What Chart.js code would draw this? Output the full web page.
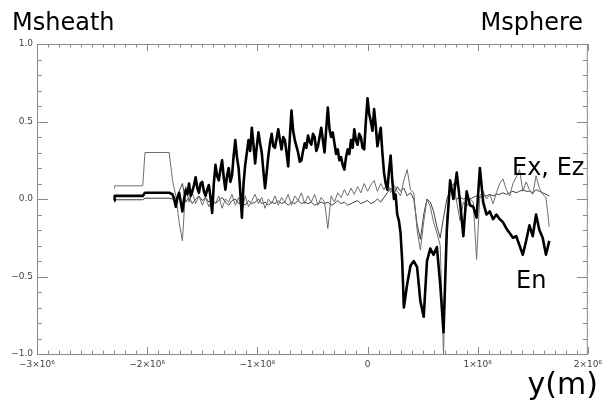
<!DOCTYPE html>
<html>
<head>
<meta charset="utf-8">
<script src="https://cdn.jsdelivr.net/npm/chart.js@4.4.0/dist/chart.umd.min.js"></script>
<style>
html, body { margin: 0; padding: 0; background: #fff; overflow: hidden; }
</style>
</head>
<body>
<canvas id="c" width="607" height="404"></canvas>
<script>
// sample positions for the thin lines, in units of 1e6 m
let ys = [-2.30, -2.295, -2.04, -2.02, -1.80,
  -1.77,-1.74,-1.71,-1.68,-1.65,-1.62,-1.59,-1.56,-1.53,-1.50,
  -1.47,-1.44,-1.41,-1.38,-1.35,-1.32,-1.29,-1.26,-1.23,-1.20,
  -1.17,-1.14,-1.11,-1.08,-1.05,-1.02,-0.99,-0.96,-0.93,-0.90,
  -0.87,-0.84,-0.81,-0.78,-0.75,-0.72,-0.69,-0.66,-0.63,-0.60,
  -0.57,-0.54,-0.51,-0.48,-0.45,-0.42,-0.39,-0.36,-0.33,-0.30,
  -0.27,-0.24,-0.21,-0.18,-0.15,-0.12,-0.09,-0.06,-0.03,0.00,
  0.03,0.06,0.09,0.12,0.15,0.18,0.21,0.24,0.27,0.30,
  0.33,0.36,0.39,0.42,0.45,0.48,0.51,0.54,0.57,0.60,
  0.63,0.66,0.69,0.72,0.75,0.78,0.81,0.84,0.87,0.90,
  0.93,0.96,0.99,1.02,1.05,1.08,1.11,1.14,1.17,1.20,
  1.23,1.26,1.29,1.32,1.35,1.38,1.41,1.44,1.47,1.50,
  1.53,1.56,1.59,1.62,1.65];

let ex = [0.07, 0.085, 0.085, 0.30, 0.30,
  0.12,0.02,-0.15,-0.27,0.08,-0.02,0.04,-0.03,0.02,-0.04,
  0.01,-0.05,0.00,-0.03,0.02,-0.06,0.00,-0.02,0.03,-0.04,
  0.01,-0.08,0.02,-0.05,-0.01,0.03,-0.03,0.01,-0.06,0.00,
  -0.03,0.02,-0.04,0.01,-0.02,0.03,-0.04,0.02,-0.01,0.04,
  -0.03,0.02,-0.02,0.03,-0.04,0.01,-0.02,-0.19,0.02,-0.02,
  0.04,0.01,0.06,0.02,0.07,0.03,0.08,0.04,0.10,0.05,
  0.09,0.12,0.05,0.10,0.06,0.11,0.04,0.09,0.05,0.02,
  0.12,0.19,0.06,0.04,-0.20,-0.33,-0.15,0.00,-0.05,-0.15,
  -0.22,-0.30,-1.00,-0.12,0.08,0.10,-0.02,-0.14,-0.02,-0.05,
  0.00,-0.02,-0.39,0.02,0.05,0.00,0.03,-0.03,0.04,0.10,
  0.13,0.06,0.02,0.10,0.14,0.19,0.05,0.11,0.06,0.03,
  0.15,0.07,0.03,0.01,-0.18];

let ez = [-0.02, -0.005, -0.005, 0.005, 0.005,
  0.00,-0.03,0.05,0.10,-0.02,0.01,-0.03,0.00,0.02,-0.01,
  0.01,-0.02,0.00,-0.03,-0.01,0.01,-0.02,-0.04,-0.01,0.00,
  -0.03,-0.02,-0.04,-0.01,-0.03,-0.02,0.00,-0.03,-0.02,-0.04,
  -0.02,-0.03,-0.01,-0.03,-0.02,-0.04,-0.02,-0.03,-0.01,-0.03,
  -0.02,-0.03,-0.02,-0.04,-0.03,-0.02,-0.03,-0.02,-0.04,-0.03,
  -0.01,-0.03,-0.02,-0.04,-0.03,-0.02,-0.01,-0.03,-0.02,-0.01,
  -0.03,-0.02,0.00,-0.02,0.01,0.04,0.07,0.03,0.08,0.05,
  0.07,0.02,0.04,0.00,-0.16,-0.26,-0.10,0.00,-0.02,-0.08,
  -0.18,-0.25,-0.12,0.00,0.06,0.02,0.00,0.01,0.00,0.01,
  0.00,0.01,0.02,0.01,0.02,0.02,0.03,0.02,0.03,0.03,
  0.04,0.03,0.04,0.05,0.04,0.05,0.06,0.05,0.05,0.04,
  0.06,0.05,0.04,0.03,0.02];

// normal component (thick line) has its own, finer sampling
let enY = [-2.30, -2.295, -2.04, -2.02, -1.80,
  -1.77,-1.755,-1.74,-1.725,-1.71,-1.695,-1.68,-1.665,-1.65,-1.635,
  -1.62,-1.605,-1.59,-1.575,-1.56,-1.545,-1.53,-1.515,-1.50,-1.485,
  -1.47,-1.455,-1.44,-1.425,-1.41,-1.395,-1.38,-1.365,-1.35,-1.335,
  -1.32,-1.305,-1.29,-1.275,-1.26,-1.245,-1.23,-1.215,-1.20,-1.185,
  -1.17,-1.155,-1.14,-1.125,-1.11,-1.095,-1.08,-1.065,-1.05,-1.035,
  -1.02,-1.005,-0.99,-0.975,-0.96,-0.945,-0.93,-0.915,-0.90,-0.885,
  -0.87,-0.855,-0.84,-0.825,-0.81,-0.795,-0.78,-0.765,-0.75,-0.735,
  -0.72,-0.705,-0.69,-0.675,-0.66,-0.645,-0.63,-0.615,-0.60,-0.585,
  -0.57,-0.555,-0.54,-0.525,-0.51,-0.495,-0.48,-0.465,-0.45,-0.435,
  -0.42,-0.405,-0.39,-0.375,-0.36,-0.345,-0.33,-0.315,-0.30,-0.285,
  -0.27,-0.255,-0.24,-0.225,-0.21,-0.195,-0.18,-0.165,-0.15,-0.135,
  -0.12,-0.105,-0.09,-0.075,-0.06,-0.045,-0.03,-0.015,0.00,0.015,
  0.03,0.045,0.06,0.075,0.09,0.105,0.12,0.135,0.15,0.165,
  0.18,0.195,0.21,0.225,0.24,0.255,0.27,0.285,0.30,0.315,
  0.33,0.36,0.39,0.42,0.45,0.48,0.51,0.54,0.57,0.60,
  0.63,0.66,0.69,0.72,0.75,0.78,0.81,0.84,0.87,0.90,
  0.93,0.96,0.99,1.02,1.05,1.08,1.11,1.14,1.17,1.20,
  1.23,1.26,1.29,1.32,1.35,1.38,1.41,1.44,1.47,1.50,
  1.53,1.56,1.59,1.62,1.65];

let en = [-0.01, 0.02, 0.02, 0.04, 0.04,
  0.03,0.00,-0.05,0.01,0.04,-0.02,-0.08,0.00,0.06,0.03,
  0.10,0.02,0.05,0.09,0.14,0.07,0.04,0.10,0.11,0.05,
  0.02,0.06,0.09,0.01,-0.09,0.10,0.22,0.15,0.12,0.19,
  0.25,0.14,0.06,0.15,0.20,0.11,0.15,0.28,0.38,0.27,
  0.20,0.05,-0.12,0.10,0.22,0.30,0.38,0.31,0.46,0.35,
  0.23,0.34,0.43,0.36,0.30,0.18,0.07,0.17,0.28,0.36,
  0.42,0.34,0.33,0.39,0.45,0.38,0.32,0.40,0.38,0.30,
  0.21,0.40,0.57,0.44,0.38,0.34,0.30,0.24,0.25,0.31,
  0.36,0.33,0.41,0.37,0.35,0.42,0.40,0.31,0.34,0.40,
  0.46,0.38,0.30,0.45,0.59,0.45,0.40,0.43,0.36,0.29,
  0.32,0.25,0.27,0.22,0.19,0.27,0.32,0.29,0.38,0.33,
  0.45,0.38,0.35,0.42,0.40,0.33,0.32,0.50,0.65,0.55,
  0.50,0.44,0.58,0.47,0.34,0.40,0.46,0.30,0.17,0.10,
  0.06,0.18,0.28,0.12,0.00,0.03,-0.10,-0.14,-0.22,-0.40,
  -0.70,-0.55,-0.43,-0.40,-0.44,-0.66,-0.76,-0.40,-0.32,-0.36,
  -0.31,-0.55,-0.86,-0.20,0.12,0.00,0.17,-0.02,-0.24,0.05,
  -0.04,-0.05,-0.12,0.20,-0.02,-0.10,-0.08,-0.13,-0.10,-0.13,
  -0.15,-0.19,-0.22,-0.25,-0.24,-0.30,-0.36,-0.27,-0.17,-0.24,
  -0.10,-0.20,-0.25,-0.36,-0.27];

function pts(pos, vals) {
  return vals.map((v, i) => ({x: pos[i] * 1e6, y: v}));
}

const MINUS = '\u2212';

// box round the plot, inward ticks on all four sides, and the labels
const frame = {
  id: 'frame',
  afterDraw(chart) {
    const ctx = chart.ctx, a = chart.chartArea;
    const sx = chart.scales.x, sy = chart.scales.y;
    ctx.save();
    ctx.strokeStyle = '#8a8a8a';
    ctx.lineWidth = 1;
    ctx.strokeRect(a.left + 0.5, a.top + 0.5, a.right - a.left - 1, a.bottom - a.top);
    ctx.beginPath();
    for (let i = -30; i <= 20; i++) {
      let px = Math.round(sx.getPixelForValue(i * 1e5)) + 0.5;
      let len = i % 10 === 0 ? 7 : 3.5;
      ctx.moveTo(px, a.bottom); ctx.lineTo(px, a.bottom - len);
      ctx.moveTo(px, a.top); ctx.lineTo(px, a.top + len);
    }
    for (let j = -10; j <= 10; j++) {
      let py = Math.round(sy.getPixelForValue(j / 10)) + 0.5;
      let len = j % 5 === 0 ? 11 : 5;
      ctx.moveTo(a.left, py); ctx.lineTo(a.left + len, py);
      ctx.moveTo(a.right, py); ctx.lineTo(a.right - len, py);
    }
    ctx.stroke();

    ctx.fillStyle = '#000';
    ctx.textBaseline = 'alphabetic';
    ctx.font = '24px "DejaVu Sans"';
    ctx.textAlign = 'left';
    ctx.fillText('Msheath', 12, 30);
    ctx.fillText('Ex, Ez', 512, 175);
    ctx.fillText('En', 516, 288);
    ctx.textAlign = 'right';
    ctx.fillText('Msphere', 583, 30);
    ctx.font = '30px "DejaVu Sans"';
    ctx.fillText('y(m)', 598, 394);
    ctx.restore();
  }
};

new Chart(document.getElementById('c'), {
  type: 'line',
  data: {
    datasets: [
      {label: 'En', data: pts(enY, en), borderColor: '#000', borderWidth: 2.6},
      {label: 'Ex', data: pts(ys, ex), borderColor: '#6e6e6e', borderWidth: 1},
      {label: 'Ez', data: pts(ys, ez), borderColor: '#2a2a2a', borderWidth: 0.9}
    ]
  },
  options: {
    responsive: false,
    animation: false,
    events: [],
    layout: {padding: {top: 44, right: 10, left: 0, bottom: 0}},
    elements: {point: {radius: 0}, line: {tension: 0, borderJoinStyle: 'round'}},
    plugins: {legend: {display: false}, tooltip: {enabled: false}},
    scales: {
      x: {
        type: 'linear', min: -3e6, max: 2e6,
        grid: {display: false, drawTicks: false},
        border: {display: false},
        ticks: {
          stepSize: 1e6, autoSkip: false, maxRotation: 0, padding: 5,
          color: '#444', font: {family: 'DejaVu Sans', size: 9},
          callback: v => v === 0 ? '0' : (v < 0 ? MINUS : '') + Math.abs(v / 1e6) + '\u00d710\u2076'
        },
        afterFit: s => { s.height = 50; }
      },
      y: {
        min: -1, max: 1,
        grid: {display: false, drawTicks: false},
        border: {display: false},
        ticks: {
          stepSize: 0.5, autoSkip: false, padding: 4,
          color: '#444', font: {family: 'DejaVu Sans', size: 9},
          callback: v => (v < 0 ? MINUS : '') + Math.abs(v).toFixed(1)
        },
        afterFit: s => { s.width = 37; }
      }
    }
  },
  plugins: [frame]
});
</script>
</body>
</html>
